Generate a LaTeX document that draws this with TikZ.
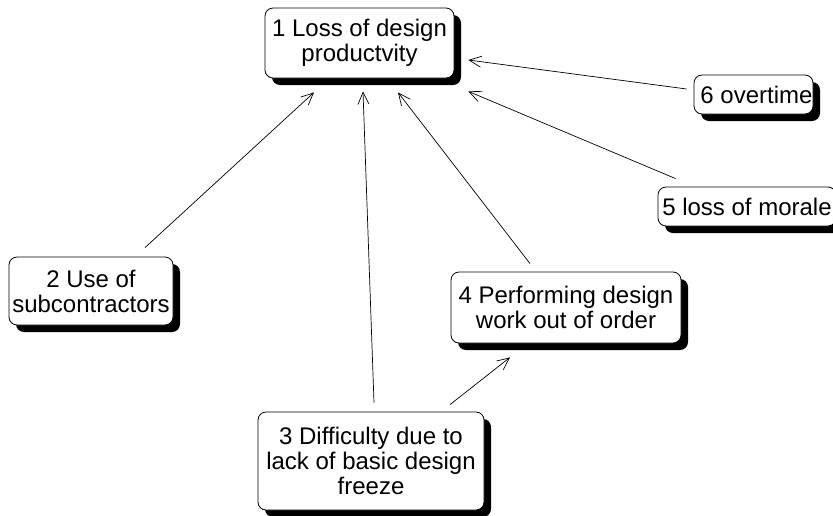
\documentclass[tikz,border=0pt]{standalone}
\usepackage{fontspec}
\setmainfont{Liberation Sans}
\usetikzlibrary{arrows.meta,shadows,calc}
\begin{document}
\begin{tikzpicture}[x=1pt,y=-1pt,
  box/.style={draw=black, line width=0.8pt, fill=white, rounded corners=8pt,
    align=center, inner sep=0pt, font=\fontsize{24}{25}\selectfont,
    general shadow={fill=black, shadow xshift=7pt, shadow yshift=-7pt}},
  arr/.style={draw=black, line width=0.7pt, -{Straight Barb[length=12pt,width=11pt,line width=0.7pt]}}]
\useasboundingbox (0,0) rectangle (833,515);
\node[box, minimum width=189pt, minimum height=70pt] (n1) at (359.5,43) {1 Loss of design\\productvity};
\node[box, minimum width=164pt, minimum height=68pt] (n2) at (91,291) {2 Use of\\subcontractors};
\node[box, minimum width=226pt, minimum height=98pt] (n3) at (371,461) {3 Difficulty due to\\lack of basic design\\freeze};
\node[box, minimum width=230pt, minimum height=71pt] (n4) at (566,307.5) {4 Performing design\\work out of order};
\node[box, minimum width=178pt, minimum height=39pt] (n5) at (747,206.5) {5 loss of morale};
\node[box, minimum width=119pt, minimum height=39pt] (n6) at (753.5,94.5) {\hspace*{6pt}6 overtime};
\draw[arr] ($(n2.north)+(54,-9)$) -- ($(n1.south)+(-45.5,14)$);
\draw[arr] ($(n3.north)+(3,-9)$) -- ($(n1.south)+(3.5,13)$);
\draw[arr] ($(n4.north)+(-36,-8)$) -- ($(n1.south)+(38.5,14)$);
\draw[arr] ($(n5.north west)+(18,-8)$) -- ($(n1.south east)+(14,13)$);
\draw[arr] ($(n6.west)+(-7,-5.5)$) -- ($(n1.east)+(14,17)$);
\draw[arr] ($(n3.north)+(79,-7)$) -- ($(n4.south)+(-56,14)$);
\end{tikzpicture}
\end{document}
